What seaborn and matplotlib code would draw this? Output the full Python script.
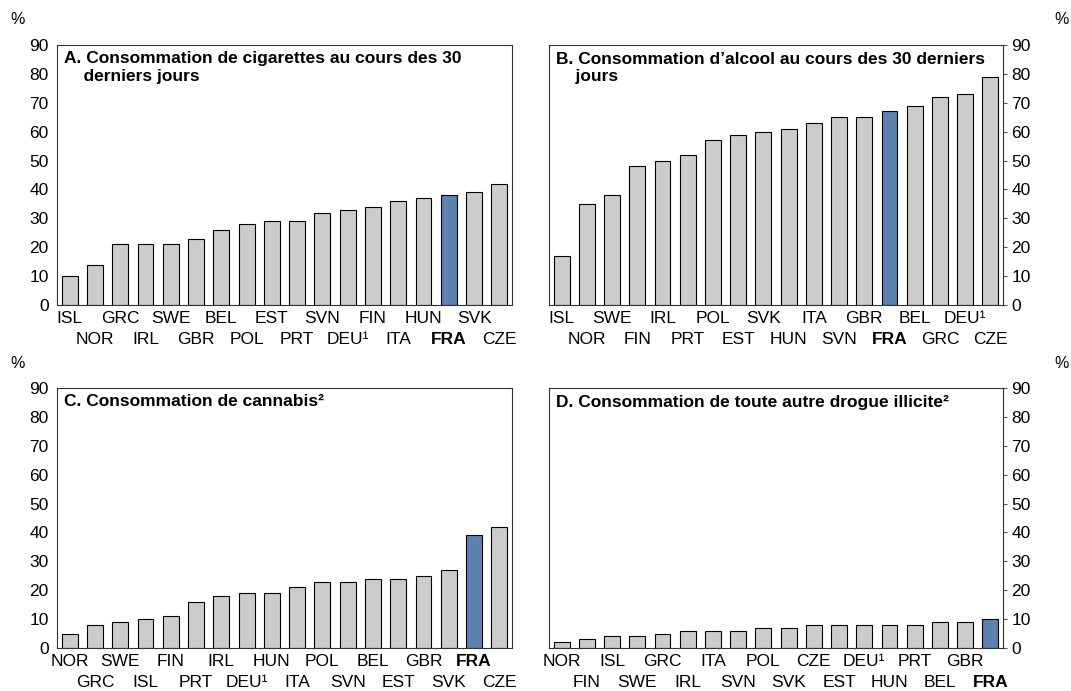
import matplotlib
matplotlib.use("Agg")
import matplotlib.pyplot as plt
import seaborn as sns
import pandas as pd

sns.set_style("white")
plt.rcParams['font.family'] = ['Liberation Sans', 'DejaVu Sans']
plt.rcParams['text.color'] = 'black'
plt.rcParams['xtick.color'] = 'black'
plt.rcParams['ytick.color'] = 'black'

countries_a = ["ISL", "NOR", "GRC", "IRL", "SWE", "GBR", "BEL", "POL", "EST", "PRT",
               "SVN", "DEU", "FIN", "ITA", "HUN", "FRA", "SVK", "CZE"]
values_a = [10, 14, 21, 21, 21, 23, 26, 28, 29, 29, 32, 33, 34, 36, 37, 38, 39, 42]

countries_b = ["ISL", "NOR", "SWE", "FIN", "IRL", "PRT", "POL", "EST", "SVK", "HUN",
               "ITA", "SVN", "GBR", "FRA", "BEL", "GRC", "DEU", "CZE"]
values_b = [17, 35, 38, 48, 50, 52, 57, 59, 60, 61, 63, 65, 65, 67, 69, 72, 73, 79]

countries_c = ["NOR", "GRC", "SWE", "ISL", "FIN", "PRT", "IRL", "DEU", "HUN", "ITA",
               "POL", "SVN", "BEL", "EST", "GBR", "SVK", "FRA", "CZE"]
values_c = [5, 8, 9, 10, 11, 16, 18, 19, 19, 21, 23, 23, 24, 24, 25, 27, 39, 42]

countries_d = ["NOR", "FIN", "ISL", "SWE", "GRC", "IRL", "ITA", "SVN", "POL", "SVK",
               "CZE", "EST", "DEU", "HUN", "PRT", "BEL", "GBR", "FRA"]
values_d = [2, 3, 4, 4, 5, 6, 6, 6, 7, 7, 8, 8, 8, 8, 8, 9, 9, 10]

titles = [
    "A. Consommation de cigarettes au cours des 30\n    derniers jours",
    "B. Consommation d\u2019alcool au cours des 30 derniers\n    jours",
    "C. Consommation de cannabis\u00b2",
    "D. Consommation de toute autre drogue illicite\u00b2",
]
yticks = [0, 10, 20, 30, 40, 50, 60, 70, 80, 90]

GREY = "#CCCCCC"
BLUE = "#4F81BD"
W, H = 1071, 691
FS = 12.5

fig = plt.figure(figsize=(W / 100, H / 100), dpi=100)

# axes boxes in pixels: left, top, right, bottom
boxes = [(57, 45, 512, 305), (549, 45, 1003, 305),
         (57, 388, 512, 648), (549, 388, 1003, 648)]
panels = [(countries_a, values_a), (countries_b, values_b),
          (countries_c, values_c), (countries_d, values_d)]

for i, ((l, t, r, b), (cty, vals)) in enumerate(zip(boxes, panels)):
    ax = fig.add_axes([l / W, 1 - b / H, (r - l) / W, (b - t) / H])
    df = pd.DataFrame({"country": cty, "value": vals})
    colors = {c: (BLUE if c == "FRA" else GREY) for c in cty}
    sns.barplot(data=df, x="country", y="value", hue="country", palette=colors,
                order=cty, width=0.63, edgecolor="black", linewidth=0.8,
                legend=False, ax=ax)
    ax.set_xlim(-0.5, len(cty) - 0.5)
    ax.set_ylim(0, 90)
    ax.set_yticks(yticks)
    ax.set_xlabel("")
    ax.set_ylabel("")

    # staggered country labels: even on first row, odd on second row
    names = ["DEU\u00b9" if c == "DEU" else c for c in cty]
    even = list(range(0, len(cty), 2))
    odd = list(range(1, len(cty), 2))
    ax.set_xticks(even)
    ax.set_xticklabels([names[j] for j in even], fontsize=FS)
    ax.set_xticks(odd, minor=True)
    ax.set_xticklabels([names[j] for j in odd], minor=True, fontsize=FS)
    for lab, j in zip(ax.get_xticklabels(), even):
        if cty[j] == "FRA":
            lab.set_fontweight("bold")
    for lab, j in zip(ax.get_xticklabels(minor=True), odd):
        if cty[j] == "FRA":
            lab.set_fontweight("bold")
    ax.tick_params(axis="x", which="major", length=0, pad=4.5)
    ax.tick_params(axis="x", which="minor", length=0, pad=19.5)

    right = i % 2 == 1
    if right:
        ax.yaxis.tick_right()
    ax.tick_params(axis="y", direction="out", length=3, width=0.8,
                   color="#555555", labelsize=FS, pad=3)

    for s in ax.spines.values():
        s.set_visible(True)
        s.set_color("#333333")
        s.set_linewidth(0.8)

    ax.text(0.016, 0.975, titles[i], transform=ax.transAxes, ha="left", va="top",
            fontsize=FS, fontweight="bold", linespacing=1.25)

    if right:
        fig.text(1062 / W, 1 - (t - 25) / H, "%", ha="center", va="center", fontsize=11.5)
    else:
        fig.text(18 / W, 1 - (t - 25) / H, "%", ha="center", va="center", fontsize=11.5)

fig.savefig("out.png", dpi=100)
